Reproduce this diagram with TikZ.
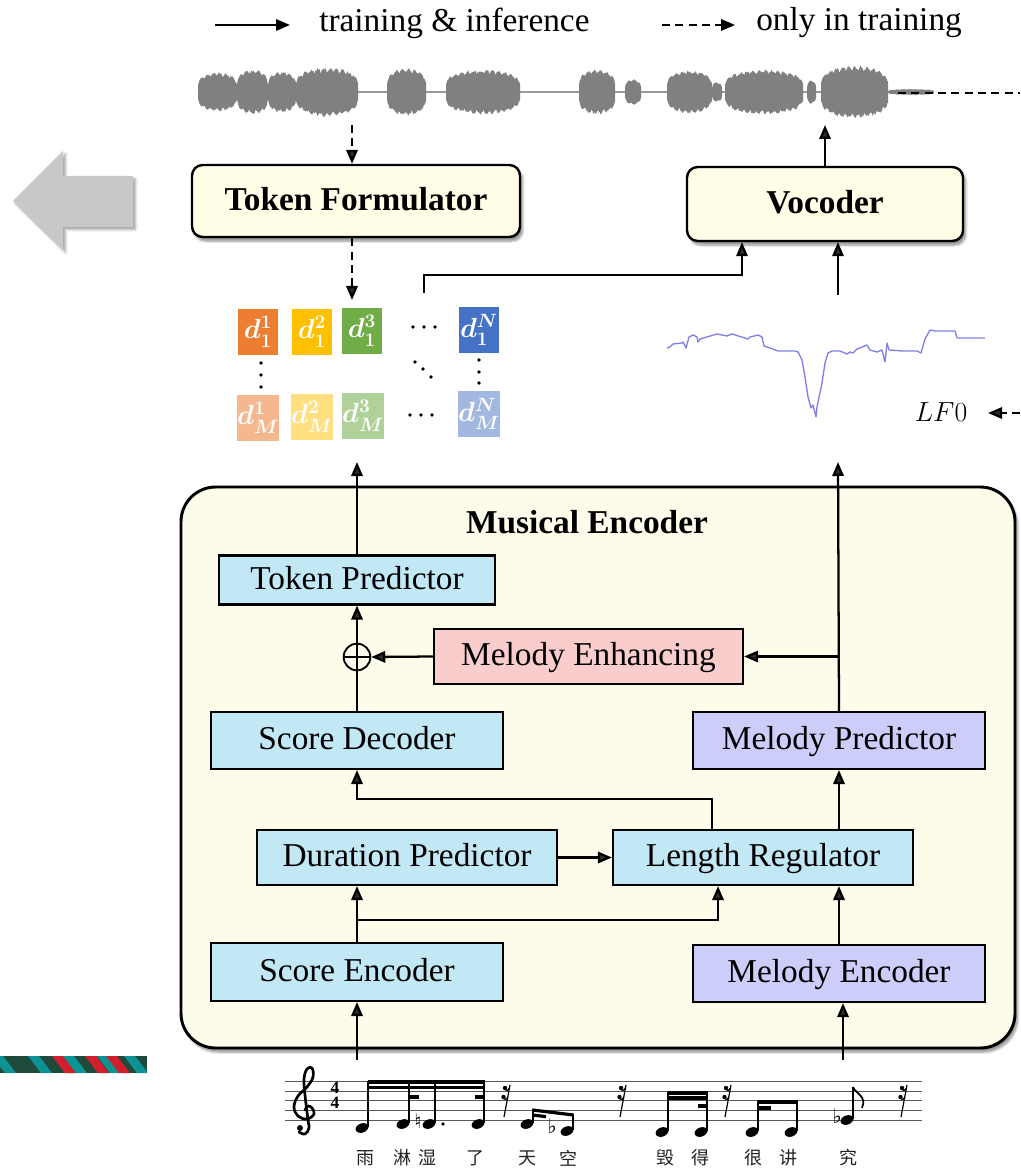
\documentclass[tikz,border=0pt]{standalone}
\usepackage{fontspec}
\setmainfont{Liberation Serif}
\newfontfamily\cjk{Noto Sans CJK SC}
\newfontfamily\symfont{DejaVu Sans}
\usetikzlibrary{arrows.meta,shadows.blur,calc}

\definecolor{creamA}{HTML}{FFFDE6}
\definecolor{creamB}{HTML}{FDFBEA}
\definecolor{boxblue}{HTML}{C2E7F5}
\definecolor{boxlav}{HTML}{CDCDF9}
\definecolor{boxpink}{HTML}{F9CDCB}
\definecolor{tokorange}{HTML}{ED7D31}
\definecolor{tokyellow}{HTML}{FFC000}
\definecolor{tokgreen}{HTML}{70AD47}
\definecolor{tokblue}{HTML}{4472C4}
\definecolor{wavegray}{HTML}{808080}
\definecolor{lfcol}{HTML}{7F7FE6}
\definecolor{arrowgray}{HTML}{C8C8C8}
\definecolor{stripeDark}{HTML}{1E4A3C}
\definecolor{stripeTeal}{HTML}{0E9394}
\definecolor{stripeRed}{HTML}{D11F2E}
\definecolor{inkgray}{HTML}{222222}

\begin{document}
\begin{tikzpicture}[x=0.75pt, y=-0.75pt,
  arr/.style={line width=1.7pt, -{Triangle[length=10.5pt,width=8.5pt]}},
  dasharr/.style={arr, dash pattern=on 6pt off 4pt},
  plainline/.style={line width=1.7pt},
  topbox/.style={draw, line width=1.8pt, rounded corners=8pt, fill=creamA, inner sep=0pt,
    text height=18pt, text depth=4pt,
    blur shadow={shadow xshift=2pt, shadow yshift=-3pt, shadow blur steps=6, shadow opacity=45},
    font=\fontsize{25}{30}\selectfont\bfseries},
  encbox/.style={draw, line width=2.2pt, rounded corners=26pt, fill=creamB, inner sep=0pt,
    blur shadow={shadow xshift=2pt, shadow yshift=-3pt, shadow blur steps=6, shadow opacity=45}},
  innerbox/.style={draw, line width=1.6pt, inner sep=0pt, text height=18pt, text depth=4pt,
    font=\fontsize{25}{30}\selectfont},
  wbox/.style={innerbox, minimum width=219pt, minimum height=42.75pt},
  tok/.style={inner sep=0pt, minimum width=30pt, minimum height=34.5pt, text=white,
    font=\fontsize{21}{21}\selectfont\boldmath},
  lyric/.style={font=\cjk\fontsize{13.5}{14}\selectfont, text=inkgray, inner sep=0pt},
  acc/.style={font=\symfont\fontsize{15}{15}\selectfont, inner sep=0pt},
  stem/.style={line width=0.9pt},
  beam/.style={line width=2.4pt}
]
\useasboundingbox (0,0) rectangle (1020,1169);

% ---------- legend ----------
\coordinate (lgs1) at (215,25);
\coordinate (lgs2) at (290,25);
\coordinate (lgd1) at (662,25);
\coordinate (lgd2) at (735,25);
\draw[arr] (lgs1) -- (lgs2);
\draw[dasharr] (lgd1) -- (lgd2);
\node[font=\fontsize{25}{30}\selectfont, anchor=west, inner sep=0pt] (lgtxt1) at (319,23) {training \& inference};
\node[font=\fontsize{25}{30}\selectfont, anchor=west, inner sep=0pt] (lgtxt2) at (756,23) {only in training};

% ---------- waveform ----------
\pgfmathsetseed{42}
\draw[wavegray!80, line width=1.2pt] (198,92) -- (934,92);
\foreach \a/\b/\h in {198/237/20, 237/268/23, 268/296/21, 296/358/25, 387/426/24,
    446/520/23, 579/615/23, 625/641/13, 667/712/22, 712/722/10, 725/803/23,
    807/816/12, 821/888/27, 888/934/3}{
  \fill[wavegray] plot[domain=\a:\b, samples=90]
      (\x,{92-\h*pow(max(sin(180*(\x-\a)/(\b-\a)),0.02),0.22)*(0.74+0.14*abs(sin(29*(\x-\a)))+0.12*rnd)})
    -- plot[domain=\b:\a, samples=90]
      (\x,{92+\h*pow(max(sin(180*(\x-\a)/(\b-\a)),0.02),0.22)*(0.74+0.14*abs(sin(29*(\x-\a)))+0.12*rnd)})
    -- cycle;
}
\coordinate (wavein) at (352,125);
\coordinate (waveout) at (825,125);
\coordinate (wavetail) at (898,93);
\coordinate (wavetailend) at (1020,93);
\draw[plainline, dash pattern=on 6pt off 4pt] (wavetail) -- (wavetailend);

% ---------- left grey arrow ----------
\fill[arrowgray, blur shadow={shadow xshift=2pt, shadow yshift=-2pt, shadow blur steps=5, shadow opacity=35}]
  (13,201) -- (63,151) -- (63,176) -- (133,176) -- (133,227) -- (63,227) -- (63,250) -- cycle;

% ---------- stripes ----------
\begin{scope}
  \clip (0,1056) rectangle (147,1073);
  \fill[stripeDark] (0,1056) rectangle (147,1073);
  \foreach \t/\c in {-8/stripeTeal, 28/stripeTeal, 52/stripeRed, 63/stripeTeal,
      85/stripeRed, 97/stripeTeal, 106/stripeRed, 124/stripeTeal}{
    \fill[\c] (\t,1056) -- ++(11,0) -- ++(13,17) -- ++(-11,0) -- cycle;
  }
\end{scope}

% ---------- top blocks ----------
\node[topbox, minimum width=246pt, minimum height=54pt] (tf) at (356,201) {Token Formulator};
\node[topbox, minimum width=207pt, minimum height=55.5pt] (voc) at (825,204) {Vocoder};

% ---------- token matrix ----------
\node[tok, fill=tokorange] (m11) at (258,332) {$d_1^1$};
\node[tok, fill=tokyellow] (m12) at (312,332) {$d_1^2$};
\node[tok, fill=tokgreen]  (m13) at (362,331) {$d_1^3$};
\node[tok, fill=tokblue]   (m1n) at (479,330) {$d_1^N$};
\node[tok, fill=tokorange!55] (mm1) at (258,418) {$d_M^1$};
\node[tok, fill=tokyellow!50] (mm2) at (312,417) {$d_M^2$};
\node[tok, fill=tokgreen!55]  (mm3) at (363,416) {$d_M^3$};
\node[tok, fill=tokblue!50]   (mmn) at (479,414) {$d_M^N$};
\foreach \p in {(413,327),(424,327),(435,327), (261,363),(261,375),(261,387),
    (415,362),(423,369),(431,377), (479,360),(479,372),(479,383),
    (410,415),(421,415),(432,415)}{
  \fill \p circle (1.8);
}
\coordinate (tokin13) at (352,300);
\coordinate (tokout) at (424,293);
\coordinate (tokin) at (357,462);

% ---------- LF0 contour ----------
\draw[lfcol, line width=1pt, line join=round] plot coordinates {
 (667,348) (670,347) (673,344) (682,343) (683,342) (686,348) (689,337) (693,335)
 (697,337) (698,342) (700,339) (717,334) (727,336) (732,334) (748,339) (750,337)
 (758,335) (762,337) (764,346) (770,348) (778,351) (795,351) (798,352) (802,360)
 (805,377) (808,397) (811,408) (813,405) (816,417) (817,407) (822,383) (825,363)
 (828,353) (832,351) (840,351) (847,354) (850,352) (853,353) (857,349) (867,345)
 (870,350) (877,352) (882,350) (885,362) (887,343) (889,350) (903,351) (917,351)
 (921,353) (925,339) (930,330) (935,331) (955,331) (957,338) (985,338)};
\coordinate (lfout) at (838,295);
\coordinate (lfin) at (838,462);
\node[font=\fontsize{21}{24}\selectfont, inner sep=0pt] (lf0) at (941,412) {$LF0$};
\coordinate (lfsrc) at (1020,413);
\coordinate (lftip) at (988,413);
\draw[dasharr] (lfsrc) -- (lftip);

% ---------- musical encoder ----------
\node[encbox, minimum width=625.5pt, minimum height=420.75pt] (enc) at (598,767.5) {};
\node[font=\fontsize{25}{30}\selectfont\bfseries, inner sep=0pt] (enctitle) at (587,522) {Musical Encoder};

\node[innerbox, fill=boxblue, minimum width=207pt, minimum height=36.75pt] (tp) at (357,580) {Token Predictor};
\node[draw, circle, line width=1.4pt, minimum size=20pt, inner sep=0pt, fill=creamB,
  path picture={\draw[line width=1.2pt] (path picture bounding box.north) -- (path picture bounding box.south)
     (path picture bounding box.west) -- (path picture bounding box.east);}] (sum) at (357,657) {};
\node[innerbox, fill=boxpink, minimum width=231.75pt, minimum height=41.25pt] (mh) at (588.5,656.5) {Melody Enhancing};
\node[wbox, fill=boxblue] (sd) at (357,740.5) {Score Decoder};
\node[wbox, fill=boxlav] (mp) at (839,740.5) {Melody Predictor};
\node[innerbox, fill=boxblue, minimum width=225pt, minimum height=41.25pt] (dp) at (407,857.5) {Duration Predictor};
\node[innerbox, fill=boxblue, minimum width=225pt, minimum height=41.25pt] (lr) at (763,857.5) {Length Regulator};
\node[wbox, fill=boxblue, minimum height=43.5pt] (se) at (357,972) {Score Encoder};
\node[wbox, fill=boxlav] (mel) at (839,973.5) {Melody Encoder};

% ---------- connectors ----------
\draw[dasharr] (wavein) -- (wavein |- tf.north);
\draw[dasharr] (wavein |- tf.south) -- (tokin13);
\draw[arr] (voc.north) -- (waveout);
\draw[arr] (tokout) -- ++(0,-18) -| ($(voc.south)+(-83,0)$);
\draw[arr] (lfout) -- (lfout |- voc.south);

\draw[arr] (tp.north) -- (tokin);
\draw[arr] (mp.north) -- (lfin);
\draw[plainline] (sd.north) -- (sum.south);
\draw[arr] (sum.north) -- (tp.south);
\draw[arr] (mh.east -| mp.north) -- (mh.east);
\draw[arr] (mh.west) -- (sum.east);
\draw[arr] ($(lr.north)+(-51,0)$) -- ++(0,-30) -| (sd.south);
\draw[arr] (lr.north -| mp.south) -- (mp.south);
\draw[arr] (dp.east) -- (lr.west);
\draw[arr] (se.north) -- (se.north |- dp.south);
\draw[arr] ($(se.north)+(0,-22)$) -| ($(lr.south)+(-45,0)$);
\draw[arr] (mel.north) -- (mel.north |- lr.south);

\coordinate (scorein1) at (357,1060);
\coordinate (scorein2) at (843,1060);
\draw[arr] (scorein1) -- (se.south);
\draw[arr] (scorein2) -- (scorein2 |- mel.south);

% ---------- score ----------
\foreach \y in {1081,1091,1100.5,1110.5,1120}{
  \draw[black!65, line width=0.6pt] (285,\y) -- (922,\y);
}
% treble clef
\draw[line width=2pt, line cap=round, line join=round] plot[smooth, tension=0.65] coordinates {
  (305,1110) (308,1106) (312,1108) (314,1114) (307,1119) (298,1116) (294,1107)
  (298,1096) (307,1087) (313,1077) (312,1068) (307,1069) (304,1079) (305,1095)
  (308,1120) (309,1128) (305,1134) (299,1132)};
\fill (300,1128) circle (3);
% time signature
\node[font=\fontsize{13}{13}\selectfont\bfseries, inner sep=0pt] (ts1) at (335,1087.5) {4};
\node[font=\fontsize{13}{13}\selectfont\bfseries, inner sep=0pt] (ts2) at (335,1102.5) {4};

% note heads
\foreach \hx/\hy in {362/1128, 403/1124, 429/1124, 478/1124, 527/1124, 567/1131,
    662/1132, 701/1132, 752/1132, 791/1132, 847/1120}{
  \fill[rotate around={20:(\hx,\hy)}] (\hx,\hy) ellipse (6.6 and 4.6);
}
% stems
\foreach \sx/\sb/\st in {368/1127/1081, 409/1123/1081, 435/1123/1081, 484/1123/1081,
    533/1123/1109, 573/1130/1114, 668/1131/1092, 707/1131/1092,
    758/1131/1101, 797/1131/1101, 853/1119/1087}{
  \draw[stem] (\sx,\sb) -- (\sx,\st);
}
% beams
\draw[beam] (367.5,1082) -- (484.5,1082);
\draw[beam] (367.5,1087.5) -- (484.5,1087.5);
\draw[beam] (408.5,1097) -- (419,1097);
\draw[beam] (475,1097) -- (484.5,1097);
\draw[beam] (532.5,1110) -- (573.5,1115);
\draw[beam] (532.5,1115) -- (546,1116.6);
\draw[beam] (667.5,1093) -- (707.5,1093);
\draw[beam] (667.5,1098) -- (707.5,1098);
\draw[beam] (698,1106) -- (707.5,1106);
\draw[beam] (757.5,1102) -- (797.5,1102);
\draw[beam] (757.5,1108) -- (771,1108);
% eighth flag
\draw[line width=1.3pt] (853,1087) .. controls (856,1094) and (867,1096) .. (862,1108);
% dot and accidentals
\fill (443,1124) circle (1.8);
\node[acc] (nat1) at (418,1121) {♮};
\node[acc] (flat1) at (552,1126) {♭};
\node[acc] (flat2) at (837,1116) {♭};
% rests
\foreach \rx in {506,622,727,903}{
  \draw[line width=0.9pt] (\rx+4,1085) -- (\rx-2,1117);
  \fill (\rx-1,1088) circle (2.2);
  \draw[line width=0.9pt] (\rx-1,1089.5) .. controls (\rx+1,1091) .. (\rx+3.5,1088);
  \fill (\rx-2.5,1097) circle (2.2);
  \draw[line width=0.9pt] (\rx-2.5,1098.5) .. controls (\rx-0.5,1100) .. (\rx+2,1097);
}

% lyrics
\node[lyric] (ly1) at (365,1158) {雨};
\node[lyric] (ly2) at (402,1158) {淋};
\node[lyric] (ly3) at (427,1158) {湿};
\node[lyric] (ly4) at (475,1158) {了};
\node[lyric] (ly5) at (527,1158) {天};
\node[lyric] (ly6) at (568,1158) {空};
\node[lyric] (ly7) at (665,1158) {毁};
\node[lyric] (ly8) at (700,1158) {得};
\node[lyric] (ly9) at (753,1158) {很};
\node[lyric] (ly10) at (788,1158) {讲};
\node[lyric] (ly11) at (848,1158) {究};
\end{tikzpicture}
\end{document}
